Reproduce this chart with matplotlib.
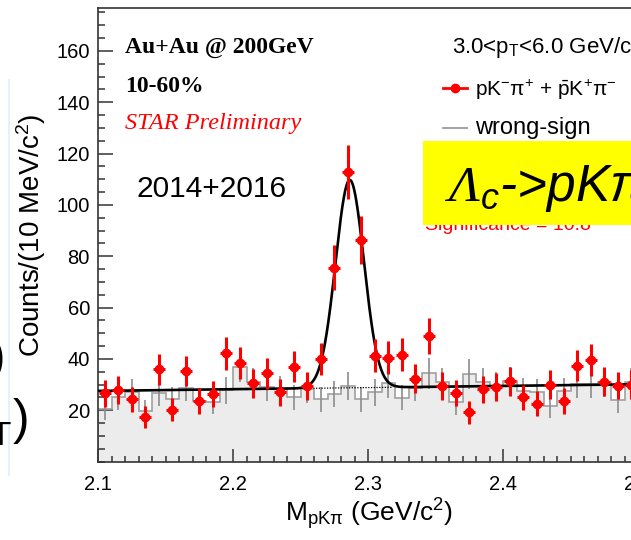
import numpy as np
import matplotlib.pyplot as plt
from matplotlib.patches import Rectangle
from matplotlib.lines import Line2D
from matplotlib.ticker import MultipleLocator

plt.rcParams['font.family'] = ['Liberation Sans', 'DejaVu Sans']
plt.rcParams['mathtext.fontset'] = 'custom'
plt.rcParams['mathtext.rm'] = 'Liberation Sans'
plt.rcParams['mathtext.it'] = 'Liberation Sans:italic'
plt.rcParams['mathtext.sf'] = 'Liberation Serif:italic'

W, H = 631, 540


def fx(x):
    return x / W


def fy(y):
    return 1 - y / H


# mass bins, 10 MeV wide
edges = np.round(np.arange(2.10, 2.5001, 0.01), 3)
centers = edges[:-1] + 0.005

# right-sign pK-pi+ + pbarK+pi- counts
counts = [26.5, 27.9, 24.3, 17.3, 36.0, 20.2, 35.3, 23.6, 26.2, 42.1,
          38.5, 30.4, 34.3, 26.9, 37.0, 29.5, 39.9, 75.5, 112.9, 86.3,
          41.2, 40.4, 41.6, 32.2, 49.0, 29.3, 26.7, 19.1, 28.2, 29.1,
          31.2, 25.0, 22.6, 30.0, 23.6, 37.3, 39.5, 31.1, 29.6, 30.0]
counts_err = [5.1, 5.3, 4.9, 4.2, 6.0, 4.5, 5.9, 4.9, 5.1, 6.5,
              6.2, 5.5, 5.9, 5.2, 6.1, 5.4, 6.3, 8.7, 10.6, 9.3,
              6.4, 6.4, 6.4, 5.7, 7.0, 5.4, 5.2, 4.4, 5.3, 5.4,
              5.6, 5.0, 4.8, 5.5, 4.9, 6.1, 6.3, 5.6, 5.4, 5.5]

# wrong-sign background
wrong_sign = [20.6, 25.2, 27.0, 19.5, 26.8, 24.3, 28.8, 23.6, 23.2, 27.8,
              36.9, 30.8, 28.9, 28.2, 25.0, 28.2, 24.3, 26.2, 29.5, 24.3,
              26.9, 30.4, 24.9, 28.8, 34.3, 30.8, 23.0, 34.0, 30.8, 29.5,
              31.4, 27.5, 27.1, 21.7, 27.5, 30.1, 30.1, 30.8, 23.9, 30.8]
wrong_sign_err = [4.5, 5.0, 5.2, 4.4, 5.2, 4.9, 5.4, 4.9, 4.8, 5.3,
                  6.1, 5.5, 5.4, 5.3, 5.0, 5.3, 4.9, 5.1, 5.4, 4.9,
                  5.2, 5.5, 5.0, 5.4, 5.9, 5.5, 4.8, 5.8, 5.5, 5.4,
                  5.6, 5.2, 5.2, 4.7, 5.2, 5.5, 5.5, 5.5, 4.9, 5.5]

# fit: gaussian + linear background
peak_mass = 2.2865
peak_sigma = 0.0105
peak_height = 81.0
bg_at_start = 27.5
bg_slope = 6.5

fig = plt.figure(figsize=(W / 100, H / 100), dpi=100)
ax = fig.add_axes([fx(98), fy(461.5), (638 - 98) / W, (461.5 - 8.3) / H])

ax.stairs(wrong_sign, edges, fill=True, color='#ececec', zorder=1)
ax.stairs(wrong_sign, edges, color='#a0a0a0', lw=1.2, zorder=2)
ax.errorbar(centers, wrong_sign, yerr=wrong_sign_err, fmt='none',
            ecolor='#8c8c8c', elinewidth=1.2, zorder=2)

xf = np.linspace(2.1, 2.5, 1000)
bg = bg_at_start + bg_slope * (xf - 2.1)
fit = bg + peak_height * np.exp(-0.5 * ((xf - peak_mass) / peak_sigma) ** 2)
ax.plot(xf, fit, color='black', lw=1.9, zorder=4)
sel = (xf > 2.255) & (xf < 2.318)
ax.plot(xf[sel], bg[sel], color='black', lw=0.9, ls=(0, (1, 1.2)), zorder=3)

ax.errorbar(centers, counts, yerr=counts_err, xerr=0.0045, fmt='o',
            color='#ff0000', ms=6, elinewidth=2.2, capsize=0, zorder=5)

ax.set_xlim(2.1, 2.5)
ax.set_ylim(0, 176.6)
ax.set_xticks([2.1, 2.2, 2.3, 2.4, 2.5])
ax.set_xticklabels(['2.1', '2.2', '2.3', '2.4', '2.5'])
ax.xaxis.set_minor_locator(MultipleLocator(0.01))
ax.set_yticks(range(20, 161, 20))
ax.yaxis.set_minor_locator(MultipleLocator(5))
ax.tick_params(axis='both', which='both', direction='in', color='#333333',
               labelsize=14.5, top=False, right=False)
ax.tick_params(axis='x', which='major', length=9.4, width=1.1, pad=9.5)
ax.tick_params(axis='x', which='minor', length=4.3, width=1.1)
ax.tick_params(axis='y', which='major', length=10.8, width=1.1, pad=5.8)
ax.tick_params(axis='y', which='minor', length=5, width=1.1)
for s in ax.spines.values():
    s.set_color('#333333')
    s.set_linewidth(1.2)

# axis titles
fig.text(fx(31), fy(235), r'Counts/(10 MeV/c$^{2}$)', rotation=90,
         ha='center', va='center', fontsize=20)
fig.text(fx(369), fy(521), r'M$_{\mathrm{pK\pi}}$ (GeV/c$^{2}$)',
         ha='center', va='baseline', fontsize=19)

# labels inside the frame
fig.text(fx(125), fy(53), 'Au+Au @ 200GeV', fontsize=17,
         family='Liberation Serif', weight='bold', va='baseline')
fig.text(fx(125), fy(92.5), '10-60%', fontsize=17,
         family='Liberation Serif', weight='bold', va='baseline')
fig.text(fx(125), fy(129), 'STAR Preliminary', fontsize=17.5, color='#ff0000',
         family='Liberation Serif', style='italic', va='baseline')
fig.text(fx(137), fy(197), '2014+2016', fontsize=21.5, va='baseline')

fig.text(fx(452), fy(53), r'3.0<p$_{\mathrm{T}}$<6.0 GeV/c', fontsize=16,
         va='baseline')
fig.lines.append(Line2D([fx(443), fx(467)], [fy(88), fy(88)], color='#ff0000',
                        lw=2, transform=fig.transFigure))
fig.lines.append(Line2D([fx(455)], [fy(88)], marker='o', ms=6, color='#ff0000',
                        transform=fig.transFigure))
fig.text(fx(475), fy(96), r'pK$^{-}$π$^{+}$ + $\bar{\mathrm{p}}$K$^{+}$π$^{-}$',
         fontsize=15, va='baseline')
fig.lines.append(Line2D([fx(443), fx(467)], [fy(128), fy(128)], color='#9a9a9a',
                        lw=1.3, transform=fig.transFigure))
fig.text(fx(475), fy(134), 'wrong-sign', fontsize=17, va='baseline')

fig.text(fx(425), fy(230), 'Significance = 10.8', fontsize=14,
         color='#ff0000', va='baseline', zorder=5)

# yellow slide box
fig.patches.append(Rectangle((fx(423), fy(225)), (W + 20 - 423) / W, 84 / H,
                             facecolor='#ffff00', edgecolor='none',
                             transform=fig.transFigure, zorder=10))
fig.text(fx(445), fy(201), r'$\mathsf{\Lambda}_{\mathit{c}}$->pKπ',
         fontsize=37, style='italic', va='baseline', zorder=11)

# bits of slide text on the left edge
fig.lines.append(Line2D([fx(9), fx(9)], [fy(80), fy(475)], color='#e3f3f9',
                        lw=1.5, transform=fig.transFigure))
fig.text(fx(5), fy(372), ')', fontsize=36, ha='right', va='baseline')
fig.text(fx(11), fy(445), 'T', fontsize=24, ha='right', va='baseline')
fig.text(fx(13), fy(434), ')', fontsize=36, ha='left', va='baseline')

fig.savefig('out.png', dpi=100)
